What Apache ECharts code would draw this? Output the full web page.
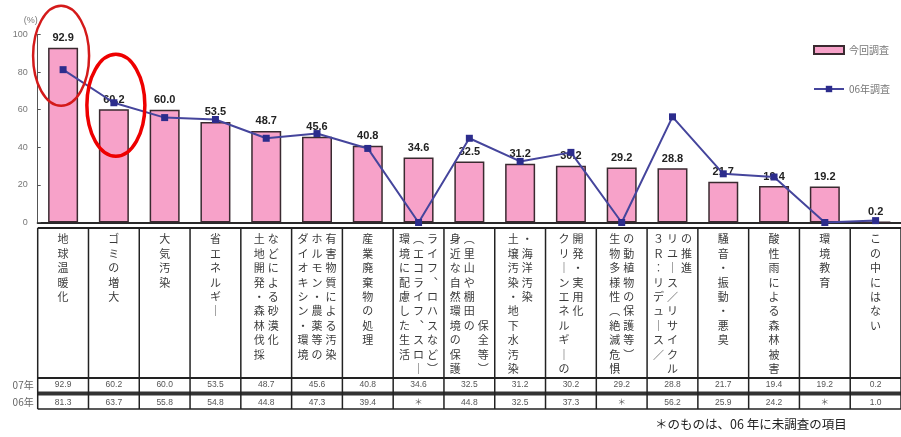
<!DOCTYPE html>
<html>
<head>
<meta charset="utf-8">
<script src="https://cdn.jsdelivr.net/npm/echarts@6/dist/echarts.min.js"></script>
<style>
  html, body { margin: 0; padding: 0; background: #fff; }
  #chart { width: 901px; height: 437px; }
</style>
</head>
<body>
<div id="chart"></div>
<script>
// Category names; '\n' marks where the stacked vertical text wraps to a new column
const categories = [
  '地球温暖化',
  'ゴミの増大',
  '大気汚染',
  '省エネルギー',
  '土地開発・森林伐採\nなどによる砂漠化',
  'ダイオキシン・環境\nホルモン・農薬等の\n有害物質による汚染',
  '産業廃棄物の処理',
  '環境に配慮した生活\n（エコライフ、スロー\nライフ、ロハスなど）',
  '身近な自然環境の保護\n（里山や棚田の\n　　　　　　保全等）',
  '土壌汚染・地下水汚染\n・海洋汚染',
  'クリーンエネルギーの\n開発・実用化',
  '生物多様性（絶滅危惧\nの動植物の保護等）',
  '３Ｒ：リデュース／\nリユース／リサイクル\nの推進',
  '騒音・振動・悪臭',
  '酸性雨による森林被害',
  '環境教育',
  'この中にはない'
];

// 2007 survey (bars) and 2006 survey (line); null = not asked in 2006
const current07 = [92.9, 60.2, 60.0, 53.5, 48.7, 45.6, 40.8, 34.6, 32.5, 31.2, 30.2, 29.2, 28.8, 21.7, 19.4, 19.2, 0.2];
const previous06 = [81.3, 63.7, 55.8, 54.8, 44.8, 47.3, 39.4, null, 44.8, 32.5, 37.3, null, 56.2, 25.9, 24.2, null, 1.0];

const seriesNames = ['今回調査', '06年調査'];
const rowLabels = ['07年', '06年'];
const notSurveyedMark = '＊';
const footnote = '＊のものは、06 年に未調査の項目';
const yAxisMin = 0, yAxisMax = 100, yAxisStep = 20;

const CJK = '"Noto Sans CJK JP", "Noto Sans CJK SC", sans-serif';
const LATIN = '"Liberation Sans", Arial, sans-serif';

const chart = echarts.init(document.getElementById('chart'), null, { renderer: 'canvas' });

const option = {
  animation: false,
  backgroundColor: '#ffffff',
  grid: { left: 37.7, right: -5.4, top: 34.5, bottom: 214.5, containLabel: false },
  legend: {
    orient: 'vertical',
    left: 808,
    top: 40,
    itemWidth: 30,
    itemHeight: 8,
    itemGap: 29,
    textStyle: { fontSize: 10, color: '#777', fontFamily: CJK },
    data: [
      { name: seriesNames[0], icon: 'rect' },
      { name: seriesNames[1] }
    ]
  },
  xAxis: {
    type: 'category',
    data: categories,
    axisLine: { lineStyle: { color: '#2a2a2a', width: 2 } },
    axisTick: { show: false },
    axisLabel: { show: false },
    splitLine: { show: false }
  },
  yAxis: {
    type: 'value',
    min: yAxisMin,
    max: yAxisMax,
    interval: yAxisStep,
    name: '(%)',
    nameLocation: 'end',
    nameGap: 9,
    nameTextStyle: { fontSize: 9, color: '#777', align: 'right', fontFamily: LATIN },
    axisLine: { show: true, lineStyle: { color: '#555', width: 1 } },
    axisTick: { show: true, inside: true, length: 3, lineStyle: { color: '#555' } },
    axisLabel: { fontSize: 9, color: '#777', margin: 10, fontFamily: LATIN },
    splitLine: { show: false }
  },
  series: [
    {
      name: seriesNames[0],
      type: 'bar',
      data: current07,
      barWidth: 30,
      itemStyle: { color: '#f7a2c9', borderColor: '#3a2a30', borderWidth: 1.5 },
      label: {
        show: true,
        position: 'top',
        distance: 4,
        formatter: p => p.value.toFixed(1),
        fontSize: 11,
        fontWeight: 'bold',
        color: '#222',
        fontFamily: LATIN
      },
      z: 2
    },
    {
      name: seriesNames[1],
      type: 'line',
      // items not asked in 2006 sit on the zero baseline
      data: previous06.map(v => (v === null ? 0 : v)),
      symbol: 'rect',
      symbolSize: 7,
      lineStyle: { color: '#45459c', width: 2 },
      itemStyle: { color: '#2c2c8c' },
      z: 3
    }
  ]
};

chart.setOption(option);

// Vertical stacked text: swap glyphs for their vertical presentation forms
function toVertical(s) {
  return s.replace(/ー/g, '｜').replace(/（/g, '︵').replace(/）/g, '︶')
          .replace(/、/g, '︑').replace(/：/g, '︰');
}

function buildTableGraphics() {
  const centers = categories.map((c, i) => chart.convertToPixel({ xAxisIndex: 0 }, i));
  const step = centers[1] - centers[0];
  const left = centers[0] - step / 2;
  const right = centers[centers.length - 1] + step / 2;

  const tableTop = 228, headBottom = 378, bandTop = 391.5, bandBottom = 395.5, tableBottom = 409;
  const ink = '#222';
  const els = [];

  const hLine = (y, w, x1) => els.push({
    type: 'line', silent: true,
    shape: { x1: x1 !== undefined ? x1 : left, y1: y, x2: right + 10, y2: y },
    style: { stroke: ink, lineWidth: w }
  });
  hLine(tableTop, 2);
  hLine(headBottom, 2);
  hLine(tableBottom, 1.5);
  els.push({
    type: 'rect', silent: true,
    shape: { x: left, y: bandTop, width: right - left + 10, height: bandBottom - bandTop },
    style: { fill: '#333' }
  });

  for (let i = 0; i <= categories.length; i++) {
    const x = left + i * step;
    els.push({
      type: 'line', silent: true,
      shape: { x1: x, y1: tableTop, x2: x, y2: tableBottom },
      style: { stroke: ink, lineWidth: 1.5 }
    });
  }

  const colGap = 14;
  categories.forEach((name, i) => {
    const cols = name.split('\n');
    cols.forEach((col, j) => {
      const cx = centers[i] + (j - (cols.length - 1) / 2) * colGap;
      els.push({
        type: 'text', silent: true, x: cx, y: 232,
        style: {
          text: Array.from(toVertical(col)).join('\n'),
          fill: '#3a3a3a',
          font: '11px ' + CJK,
          lineHeight: 14.4,
          align: 'center',
          verticalAlign: 'top'
        }
      });
    });

    els.push({
      type: 'text', silent: true, x: centers[i], y: (headBottom + bandTop) / 2,
      style: {
        text: current07[i].toFixed(1), fill: '#555', font: '8.5px ' + LATIN,
        align: 'center', verticalAlign: 'middle'
      }
    });
    const prev = previous06[i];
    els.push({
      type: 'text', silent: true, x: centers[i], y: (bandBottom + tableBottom) / 2,
      style: {
        text: prev === null ? notSurveyedMark : prev.toFixed(1), fill: '#555',
        font: '8.5px ' + (prev === null ? CJK : LATIN),
        align: 'center', verticalAlign: 'middle'
      }
    });
  });

  rowLabels.forEach((lab, r) => {
    els.push({
      type: 'text', silent: true, x: left - 4,
      y: r === 0 ? (headBottom + bandTop) / 2 : (bandBottom + tableBottom) / 2,
      style: { text: lab, fill: '#666', font: '10px ' + CJK, align: 'right', verticalAlign: 'middle' }
    });
  });

  els.push({
    type: 'text', silent: true, x: 655, y: 424,
    style: { text: footnote, fill: '#222', font: '12.5px ' + CJK, align: 'left', verticalAlign: 'middle' }
  });

  // Red rings highlighting the two top items
  const top0 = chart.convertToPixel({ xAxisIndex: 0, yAxisIndex: 0 }, [0, current07[0]]);
  const top1 = chart.convertToPixel({ xAxisIndex: 0, yAxisIndex: 0 }, [1, current07[1]]);
  els.push({
    type: 'ellipse', silent: true, z: 10,
    shape: { cx: top0[0] - 2, cy: top0[1] + 8, rx: 28, ry: 50 },
    style: { fill: 'none', stroke: '#d41a1a', lineWidth: 2.5 }
  });
  els.push({
    type: 'ellipse', silent: true, z: 10,
    shape: { cx: top1[0] + 2, cy: top1[1] - 4, rx: 29, ry: 51 },
    style: { fill: 'none', stroke: '#ee0000', lineWidth: 3.5 }
  });

  chart.setOption({ graphic: els });
}

buildTableGraphics();
</script>
</body>
</html>
